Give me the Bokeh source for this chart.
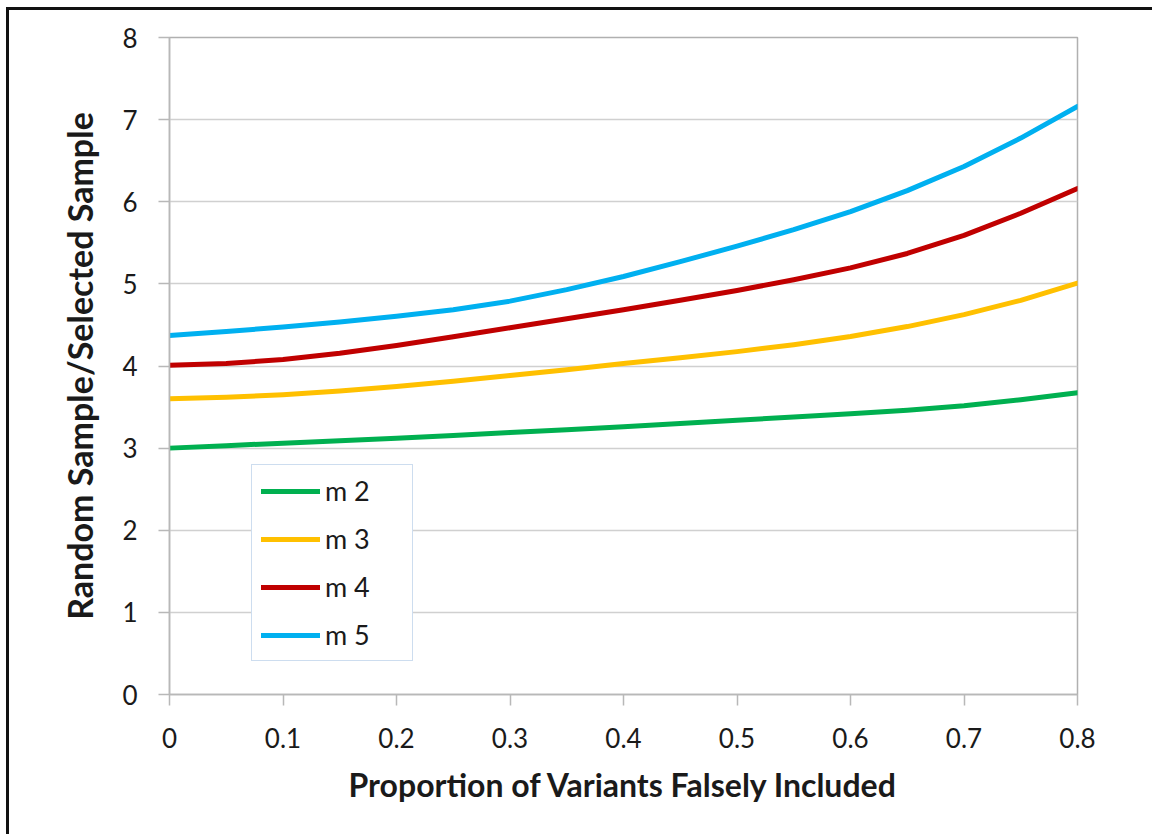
from bokeh.plotting import figure
from bokeh.models import FixedTicker, Legend, LegendItem, Range1d
from bokeh.embed import file_html
from bokeh.resources import INLINE

# ---- data ----
x_values = [0, 0.05, 0.1, 0.15, 0.2, 0.25, 0.3, 0.35, 0.4, 0.45, 0.5, 0.55, 0.6, 0.65, 0.7, 0.75, 0.8]
m2 = [3.00, 3.03, 3.06, 3.09, 3.12, 3.155, 3.19, 3.225, 3.26, 3.30, 3.34, 3.38, 3.42, 3.46, 3.515, 3.59, 3.675]
m3 = [3.60, 3.62, 3.65, 3.695, 3.75, 3.815, 3.885, 3.955, 4.03, 4.10, 4.175, 4.26, 4.36, 4.48, 4.625, 4.80, 5.01]
m4 = [4.01, 4.03, 4.08, 4.155, 4.25, 4.355, 4.465, 4.575, 4.685, 4.80, 4.92, 5.05, 5.195, 5.37, 5.59, 5.86, 6.16]
m5 = [4.37, 4.42, 4.475, 4.535, 4.605, 4.685, 4.79, 4.93, 5.09, 5.27, 5.46, 5.66, 5.88, 6.135, 6.43, 6.775, 7.16]

series_names = ["m 2", "m 3", "m 4", "m 5"]
series_values = [m2, m3, m4, m5]
series_colors = ["#00b050", "#ffc000", "#c00000", "#00b0f0"]

x_ticks = [0, 0.1, 0.2, 0.3, 0.4, 0.5, 0.6, 0.7, 0.8]
x_tick_labels = ["0", "0.1", "0.2", "0.3", "0.4", "0.5", "0.6", "0.7", "0.8"]
y_ticks = [0, 1, 2, 3, 4, 5, 6, 7, 8]

x_title = "Proportion of Variants Falsely Included"
y_title = "Random Sample/Selected Sample"

FONT = "Lato"
TEXT_COLOR = "#1a1a1a"

p = figure(
    output_backend="svg", toolbar_location=None,
    frame_width=908, frame_height=657,
    min_border_left=160, min_border_right=75,
    min_border_top=27, min_border_bottom=140,
    x_range=Range1d(0, 0.8), y_range=Range1d(0, 8),
    background_fill_color="white", border_fill_color="white",
)
p.margin = (7, 0, 0, 6)
p.styles = {"border-left": "3px solid #111111", "border-top": "3px solid #111111"}

p.outline_line_color = "#b0b0b0"
p.outline_line_width = 1.5

# grid
p.xgrid.visible = False
p.ygrid.grid_line_color = "#d0d0d0"
p.ygrid.grid_line_width = 1.5

# axes
p.xaxis.ticker = FixedTicker(ticks=x_ticks)
p.xaxis.major_label_overrides = {t: s for t, s in zip(x_ticks, x_tick_labels)}
p.yaxis.ticker = FixedTicker(ticks=y_ticks)
for ax in (p.xaxis, p.yaxis):
    ax.axis_line_color = "#b8b8b8"
    ax.axis_line_width = 1.5
    ax.major_tick_line_color = "#b8b8b8"
    ax.major_tick_line_width = 1.5
    ax.major_tick_in = 0
    ax.major_tick_out = 11
    ax.minor_tick_line_color = None
    ax.major_label_text_font = FONT
    ax.major_label_text_font_size = "26px"
    ax.major_label_text_color = TEXT_COLOR
    ax.axis_label_text_font = FONT
    ax.axis_label_text_font_style = "bold"
    ax.axis_label_text_color = TEXT_COLOR

p.xaxis.axis_label = x_title
p.xaxis.axis_label_text_font_size = "32px"
p.xaxis.major_label_standoff = 22
p.xaxis.axis_label_standoff = 14

p.yaxis.axis_label = y_title
p.yaxis.axis_label_text_font_size = "34px"
p.yaxis.major_label_standoff = 21
p.yaxis.axis_label_standoff = 19

# lines
items = []
for name, vals, col in zip(series_names, series_values, series_colors):
    r = p.line(x_values, vals, line_color=col, line_width=5, line_cap="round", line_join="round")
    items.append(LegendItem(label=name, renderers=[r]))

legend = Legend(
    items=items, location=(82, 33),
    border_line_color="#9bbbe0", border_line_width=1.5,
    background_fill_color="white", background_fill_alpha=1.0,
    padding=9, spacing=15, margin=0,
    glyph_width=59, label_standoff=5, label_width=78,
    label_text_font=FONT, label_text_font_size="27px", label_text_color=TEXT_COLOR,
)
p.add_layout(legend, "center")

open("out.html", "w").write(file_html(p, INLINE))
